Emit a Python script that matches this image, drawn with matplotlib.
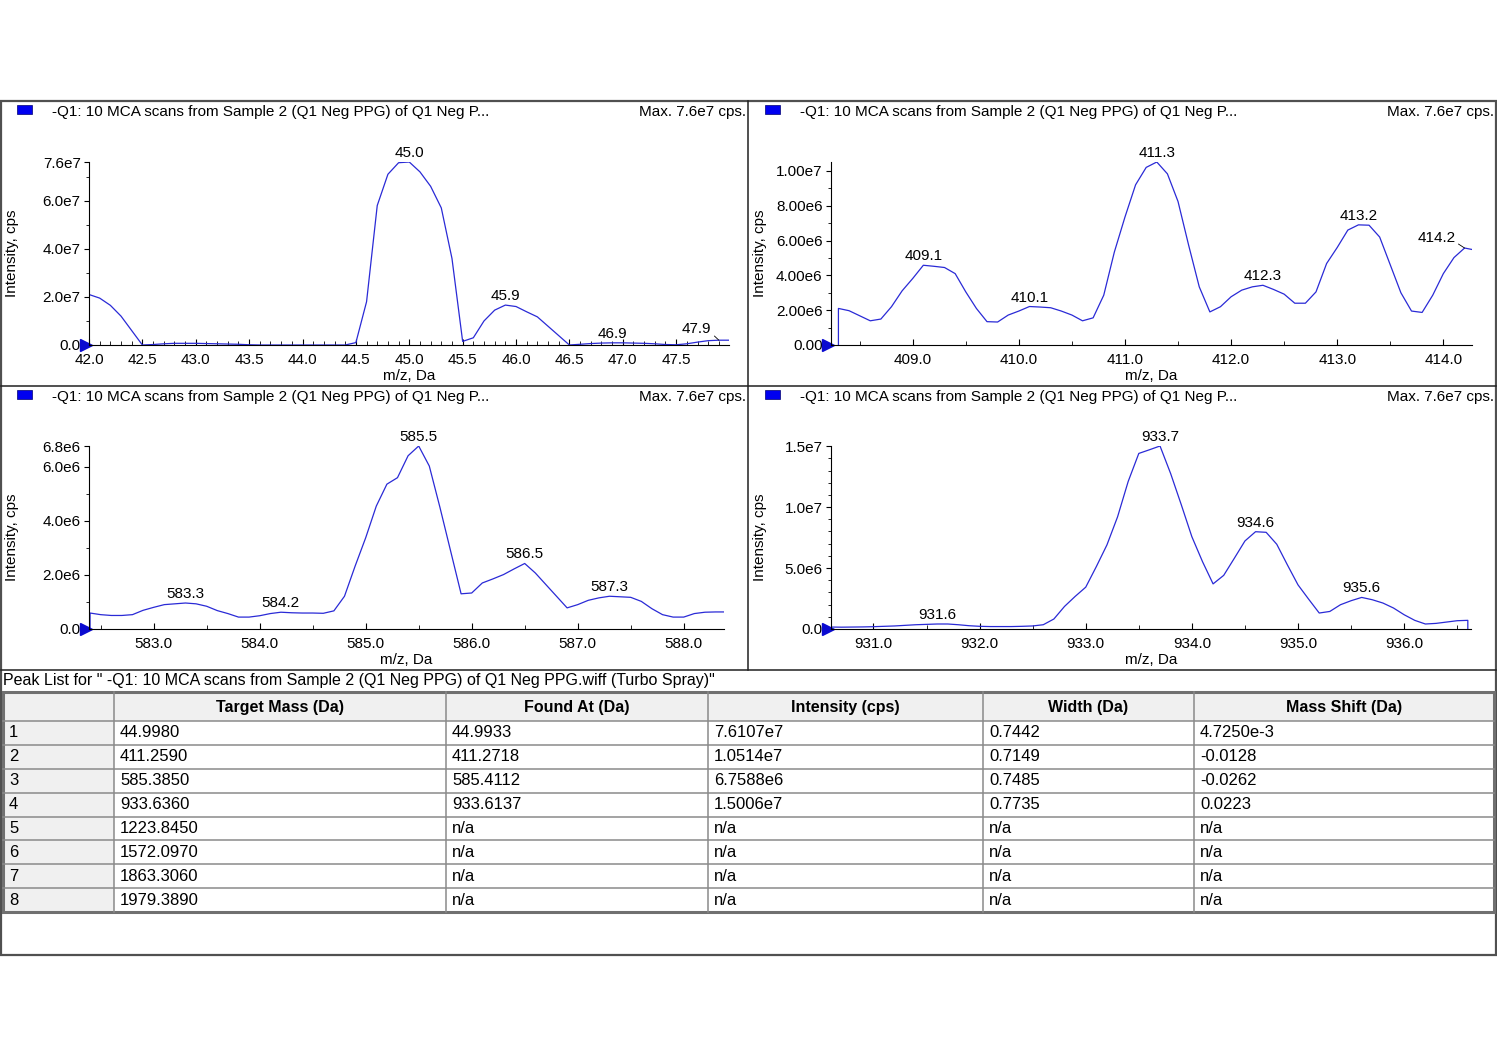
import matplotlib.pyplot as plt
import numpy as np
from matplotlib.patches import Rectangle
from matplotlib.ticker import MultipleLocator, FormatStrFormatter
from matplotlib.transforms import ScaledTranslation

plt.rcParams['font.family'] = ['Liberation Sans', 'DejaVu Sans']
plt.rcParams['font.size'] = 11

# ---- spectra (m/z sampled every 0.1 Da) ----
tl_mz = np.round(np.arange(42.0, 48.01, 0.1), 1)
tl_int = np.array([
    2.10, 1.95, 1.65, 1.20, 0.60, 0.00, 0.02, 0.05, 0.07, 0.07,
    0.07, 0.06, 0.05, 0.04, 0.03, 0.01, 0.00, 0.00, 0.00, 0.00,
    0.00, 0.00, 0.00, 0.00, 0.00, 0.10, 1.80, 5.80, 7.10, 7.58,
    7.61, 7.20, 6.60, 5.70, 3.60, 0.15, 0.30, 1.00, 1.45, 1.66,
    1.60, 1.38, 1.17, 0.78, 0.39, 0.00, 0.03, 0.06, 0.08, 0.09,
    0.09, 0.08, 0.07, 0.05, 0.02, 0.01, 0.05, 0.12, 0.18, 0.20,
    0.20]) * 1e7

tr_mz = np.round(np.arange(408.3, 414.31, 0.1), 1)
tr_int = np.array([
    2.10, 1.97, 1.68, 1.39, 1.49, 2.20, 3.11, 3.82, 4.58, 4.52,
    4.45, 4.10, 3.05, 2.10, 1.34, 1.32, 1.72, 1.95, 2.21, 2.18,
    2.14, 1.95, 1.72, 1.39, 1.56, 2.86, 5.34, 7.35, 9.20, 10.20,
    10.51, 9.83, 8.24, 5.73, 3.34, 1.90, 2.20, 2.77, 3.15, 3.34,
    3.43, 3.19, 2.92, 2.40, 2.40, 3.05, 4.68, 5.60, 6.60, 6.90,
    6.88, 6.20, 4.60, 3.00, 1.95, 1.87, 2.86, 4.10, 5.02, 5.57,
    5.45]) * 1e6

bl_mz = np.round(np.arange(582.4, 588.41, 0.1), 1)
bl_int = np.array([
    0.59, 0.53, 0.50, 0.50, 0.53, 0.69, 0.80, 0.90, 0.93, 0.96,
    0.93, 0.84, 0.68, 0.57, 0.44, 0.44, 0.49, 0.57, 0.62, 0.60,
    0.59, 0.59, 0.58, 0.67, 1.21, 2.32, 3.37, 4.54, 5.35, 5.59,
    6.40, 6.76, 6.02, 4.50, 2.90, 1.30, 1.33, 1.70, 1.85, 2.01,
    2.22, 2.42, 2.07, 1.64, 1.21, 0.78, 0.90, 1.06, 1.15, 1.21,
    1.19, 1.17, 1.02, 0.75, 0.53, 0.44, 0.44, 0.57, 0.62, 0.63,
    0.63]) * 1e6

br_mz = np.round(np.arange(930.6, 936.61, 0.1), 1)
br_int = np.array([
    0.16, 0.15, 0.16, 0.17, 0.19, 0.22, 0.25, 0.30, 0.35, 0.38,
    0.41, 0.41, 0.35, 0.27, 0.22, 0.20, 0.20, 0.20, 0.22, 0.25,
    0.35, 0.82, 1.85, 2.67, 3.43, 5.12, 6.90, 9.20, 12.10, 14.40,
    14.70, 15.01, 12.75, 10.20, 7.57, 5.53, 3.70, 4.40, 5.80, 7.22,
    7.98, 7.93, 6.95, 5.26, 3.62, 2.45, 1.31, 1.44, 1.99, 2.32,
    2.59, 2.40, 2.13, 1.72, 1.17, 0.71, 0.41, 0.46, 0.57, 0.68,
    0.71]) * 1e6

tl_peaks = [45.0, 45.9, 46.9, 47.9]
tr_peaks = [409.1, 410.1, 411.3, 412.3, 413.2, 414.2]
bl_peaks = [583.3, 584.2, 585.5, 586.5, 587.3]
br_peaks = [931.6, 933.7, 934.6, 935.6]

tl_yticks = [0, 2e7, 4e7, 6e7]
tr_yticks = [0, 2e6, 4e6, 6e6, 8e6, 1e7]
bl_yticks = [0, 2e6, 4e6, 6e6]
br_yticks = [0, 5e6, 1e7]

header = "-Q1: 10 MCA scans from Sample 2 (Q1 Neg PPG) of Q1 Neg P..."
max_text = "Max. 7.6e7 cps."

# ---- peak list table ----
col_labels = ["", "Target Mass (Da)", "Found At (Da)", "Intensity (cps)", "Width (Da)", "Mass Shift (Da)"]
row_ids = ["1", "2", "3", "4", "5", "6", "7", "8"]
target_mass = ["44.9980", "411.2590", "585.3850", "933.6360", "1223.8450", "1572.0970", "1863.3060", "1979.3890"]
found_at = ["44.9933", "411.2718", "585.4112", "933.6137", "n/a", "n/a", "n/a", "n/a"]
intensity = ["7.6107e7", "1.0514e7", "6.7588e6", "1.5006e7", "n/a", "n/a", "n/a", "n/a"]
width = ["0.7442", "0.7149", "0.7485", "0.7735", "n/a", "n/a", "n/a", "n/a"]
mass_shift = ["4.7250e-3", "-0.0128", "-0.0262", "0.0223", "n/a", "n/a", "n/a", "n/a"]

W, H = 1497, 1058
fig = plt.figure(figsize=(W / 100, H / 100), dpi=100)
bg = fig.add_axes([0, 0, 1, 1])
bg.set_xlim(0, W)
bg.set_ylim(H, 0)
bg.axis('off')


def box(l, t, r, b):
    return [l / W, 1 - b / H, (r - l) / W, (b - t) / H]


def sci(v, d):
    if v == 0:
        return f"{0:.{d}f}"
    m, e = f"{v:.{d}e}".split('e')
    return f"{m}e{int(e)}"


line_col = '#2a2ad6'
panels = [
    dict(mz=tl_mz, y=tl_int, px=(89, 162, 729, 345), xlim=(42.0, 47.995), xmaj=0.5, xmin=0.1,
         yt=tl_yticks, ymin=1e7, d=1, peaks=tl_peaks, drop='start', hx=0, hy=101, lead=47.9),
    dict(mz=tr_mz, y=tr_int, px=(831, 162, 1472, 345), xlim=(408.23, 414.27), xmaj=1.0, xmin=0.5,
         yt=tr_yticks, ymin=1e6, d=2, peaks=tr_peaks, drop='start', hx=748, hy=101, lead=414.2),
    dict(mz=bl_mz, y=bl_int, px=(89, 446, 724, 629), xlim=(582.39, 588.38), xmaj=1.0, xmin=0.5,
         yt=bl_yticks, ymin=1e6, d=1, peaks=bl_peaks, drop='start', hx=0, hy=386, lead=None),
    dict(mz=br_mz, y=br_int, px=(831, 446, 1471, 629), xlim=(930.6, 936.63), xmaj=1.0, xmin=0.5,
         yt=br_yticks, ymin=1e6, d=1, peaks=br_peaks, drop='end', hx=748, hy=386, lead=None),
]

for p in panels:
    l, t, r, b = p['px']
    ax = fig.add_axes(box(l, t, r, b))
    ax.patch.set_alpha(0)
    x, y = p['mz'], p['y']
    if p['drop'] == 'start':
        x, y = np.r_[x[0], x], np.r_[0, y]
    else:
        x, y = np.r_[x, x[-1]], np.r_[y, 0]
    ax.plot(x, y, color=line_col, lw=0.9)
    ymax = p['y'].max()
    ax.set_xlim(*p['xlim'])
    ax.set_ylim(0, ymax)
    for s in ['top', 'right']:
        ax.spines[s].set_visible(False)
    ax.xaxis.set_major_locator(MultipleLocator(p['xmaj']))
    ax.xaxis.set_minor_locator(MultipleLocator(p['xmin']))
    ax.xaxis.set_major_formatter(FormatStrFormatter('%.1f'))
    yt = list(p['yt'])
    labels = [sci(v, p['d']) for v in yt]
    if p['d'] == 1:
        yt.append(ymax)
        labels.append(sci(ymax, 1))
    ax.set_yticks(yt, labels)
    ax.yaxis.set_minor_locator(MultipleLocator(p['ymin']))
    ax.tick_params(axis='x', which='both', direction='in', pad=5.5, labelsize=11)
    ax.tick_params(axis='x', which='major', length=4)
    ax.tick_params(axis='x', which='minor', length=3)
    ax.tick_params(axis='y', which='major', direction='out', length=3.5, pad=2.5, labelsize=11)
    ax.tick_params(axis='y', which='minor', direction='out', length=2)

    # start marker
    tri = ax.transData + ScaledTranslation(-3 / 100, 0, fig.dpi_scale_trans)
    ax.plot([p['xlim'][0]], [0], marker='>', ms=8, color='#0a0ad0', transform=tri, clip_on=False)

    for pk in p['peaks']:
        yv = p['y'][np.argmin(np.abs(p['mz'] - pk))]
        if pk == p['lead']:
            off = (-22, 4) if pk < 100 else (-28, 3)
            ax.annotate(f"{pk:.1f}", xy=(pk, yv), xytext=off, textcoords='offset pixels',
                        ha='center', va='bottom', fontsize=11,
                        arrowprops=dict(arrowstyle='-', lw=0.6, color='black', shrinkA=0, shrinkB=0,
                                        relpos=(1.0, 0.2)))
        else:
            ax.annotate(f"{pk:.1f}", xy=(pk, yv), xytext=(0, 2), textcoords='offset pixels',
                        ha='center', va='bottom', fontsize=11)

    # panel header
    hx, hy = p['hx'], p['hy']
    bg.add_patch(Rectangle((hx + 17, hy + 4), 15, 9, fc='#0000f0', ec='#000070', lw=0.5))
    bg.text(hx + 52, hy + 11, header, ha='left', va='center', fontsize=11)
    bg.text(hx + 746, hy + 11, max_text, ha='right', va='center', fontsize=11)
    bg.text(hx + 12, (t + b) / 2, "Intensity, cps", rotation=90, ha='center', va='center', fontsize=11)
    bg.text((l + r) / 2, b + 31, "m/z, Da", ha='center', va='center', fontsize=11)

# frame lines
bg.add_patch(Rectangle((1, 101), 1495, 854, fill=False, ec='#505050', lw=1.6))
bg.plot([748, 748], [101, 670], color='#202020', lw=1.1)
bg.plot([1, 1496], [386, 386], color='#202020', lw=1.1)
bg.plot([1, 1496], [670, 670], color='#202020', lw=1.1)

# table
bg.text(3, 681, 'Peak List for " -Q1: 10 MCA scans from Sample 2 (Q1 Neg PPG) of Q1 Neg PPG.wiff (Turbo Spray)"',
        ha='left', va='center', fontsize=11.5)
cols = [3, 114, 446, 708, 983, 1194, 1494]
top, head_b, bot = 692, 721, 912
row_h = (bot - head_b) / len(row_ids)
bg.add_patch(Rectangle((cols[0], top), cols[-1] - cols[0], head_b - top, fc='#f0f0f0', ec='none'))
bg.add_patch(Rectangle((cols[0], head_b), cols[1] - cols[0], bot - head_b, fc='#f0f0f0', ec='none'))
for c in cols[1:-1]:
    bg.plot([c, c], [top, bot], color='#8a8a8a', lw=1.1)
for i in range(len(row_ids)):
    yy = head_b + i * row_h
    bg.plot([cols[0], cols[-1]], [yy, yy], color='#8a8a8a', lw=1.1)
bg.add_patch(Rectangle((cols[0], top), cols[-1] - cols[0], bot - top, fill=False, ec='#707070', lw=2.2))

for j, lab in enumerate(col_labels):
    bg.text((cols[j] + cols[j + 1]) / 2, (top + head_b) / 2 + 1, lab, ha='center', va='center',
            fontsize=11.5, fontweight='bold')
columns = [row_ids, target_mass, found_at, intensity, width, mass_shift]
for j, vals in enumerate(columns):
    for i, v in enumerate(vals):
        bg.text(cols[j] + 6, head_b + (i + 0.5) * row_h, v, ha='left', va='center', fontsize=12)

fig.savefig('out.png', dpi=100)
